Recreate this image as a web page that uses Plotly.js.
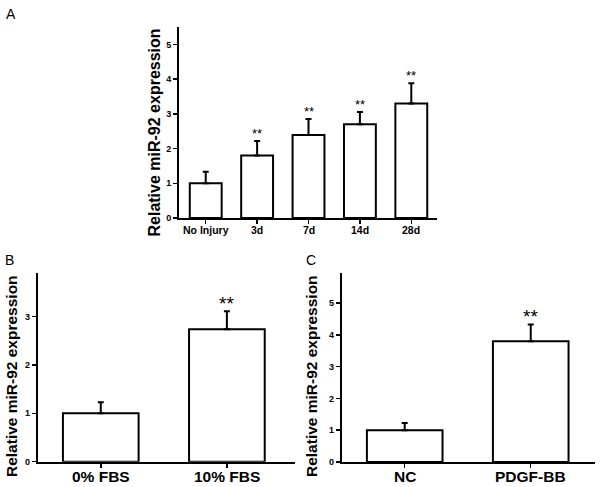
<!DOCTYPE html>
<html>
<head>
<meta charset="utf-8">
<script src="https://cdn.plot.ly/plotly-3.0.1.min.js"></script>
<style>html,body{margin:0;padding:0;background:#fff;}#chart{width:600px;height:487px;}</style>
</head>
<body>
<div id="chart"></div>
<script>
// Panel A
const catsA = ["No Injury", "3d", "7d", "14d", "28d"];
const valsA = [1.0, 1.80, 2.39, 2.70, 3.30];
const errA  = [0.33, 0.42, 0.46, 0.35, 0.58];
const sigA  = ["", "**", "**", "**", "**"];
// Panel B
const catsB = ["0% FBS", "10% FBS"];
const valsB = [1.0, 2.74];
const errB  = [0.23, 0.37];
const sigB  = ["", "**"];
// Panel C
const catsC = ["NC", "PDGF-BB"];
const valsC = [1.0, 3.80];
const errC  = [0.23, 0.53];
const sigC  = ["", "**"];

const yTitle = "Relative miR-92 expression";
const FONT = "Liberation Sans, Arial, sans-serif";
const W = 600, H = 487;
const px = v => v / W;
const py = v => 1 - v / H;

function barTrace(cats, vals, errs, xa, ya, width) {
  return {
    type: "bar", x: cats, y: vals, xaxis: xa, yaxis: ya, width: width,
    marker: {color: "#ffffff", line: {color: "#000", width: 2}},
    error_y: {type: "data", symmetric: false, array: errs, arrayminus: errs.map(() => 0),
              color: "#000", thickness: 2, width: 3},
    showlegend: false, hoverinfo: "skip"
  };
}

const data = [
  barTrace(catsA, valsA, errA, "x", "y", 0.62),
  barTrace(catsB, valsB, errB, "x2", "y2", 0.6),
  barTrace(catsC, valsC, errC, "x3", "y3", 0.6)
];

function xax(domain, range, anchor) {
  return {domain: domain, range: range, anchor: anchor, showline: true, linecolor: "#000", linewidth: 2,
    ticks: "outside", ticklen: 4, tickwidth: 1.5, tickcolor: "#000", showgrid: false,
    zeroline: false, fixedrange: true, showticklabels: false};
}
function yax(domain, range, anchor, size) {
  return {domain: domain, range: range, anchor: anchor, showline: true, linecolor: "#000", linewidth: 2,
    ticks: "outside", ticklen: 4, tickwidth: 1.5, tickcolor: "#000", showgrid: false,
    zeroline: false, dtick: 1, tick0: 0, fixedrange: true,
    tickfont: {family: FONT, size: size, color: "#000", weight: "bold"}};
}

const annotations = [];
function xlabels(cats, xa, yTopPx, size) {
  cats.forEach(c => {
    annotations.push({x: c, xref: xa, y: py(yTopPx), yref: "paper", text: c, showarrow: false,
      xanchor: "center", yanchor: "top",
      font: {family: FONT, size: size, color: "#000", weight: "bold"}});
  });
}
xlabels(catsA, "x", 222, 10.5);
xlabels(catsB, "x2", 466, 15.5);
xlabels(catsC, "x3", 466, 15.5);

function stars(cats, vals, errs, sig, xa, ya, size, shift) {
  cats.forEach((c, i) => {
    if (!sig[i]) return;
    annotations.push({x: c, y: vals[i] + errs[i], xref: xa, yref: ya, text: sig[i],
      showarrow: false, yanchor: "bottom", yshift: shift,
      font: {family: FONT, size: size, color: "#000"}});
  });
}
stars(catsA, valsA, errA, sigA, "x", "y", 13, -2);
stars(catsB, valsB, errB, sigB, "x2", "y2", 19, -5);
stars(catsC, valsC, errC, sigC, "x3", "y3", 19, -5);

function ytitle(x, y, size) {
  annotations.push({text: yTitle, xref: "paper", yref: "paper", x: x, y: y, textangle: -90,
    showarrow: false, xanchor: "center", yanchor: "middle",
    font: {family: FONT, size: size, color: "#000", weight: "bold"}});
}
ytitle(px(154), py(132.5), 16);
ytitle(px(11), py(376), 15.5);
ytitle(px(311), py(376), 15.5);

function panel(t, x, y) {
  annotations.push({text: t, xref: "paper", yref: "paper", x: x, y: y, xanchor: "left", yanchor: "top",
    showarrow: false, font: {family: FONT, size: 14, color: "#000"}});
}
panel("A", px(4), py(4));
panel("B", px(3), py(250));
panel("C", px(304), py(250));

const layout = {
  width: W, height: H, margin: {l: 0, r: 0, t: 0, b: 0},
  paper_bgcolor: "#fff", plot_bgcolor: "#fff",
  xaxis: xax([px(179), px(437)], [-0.52, 4.5], "y"),
  yaxis: yax([py(218), py(27)], [0, 5.5], "x", 9),
  xaxis2: xax([px(37.7), px(295)], [-0.5, 1.54], "y2"),
  yaxis2: yax([py(461.7), py(273)], [0, 3.9], "x2", 9),
  xaxis3: xax([px(341.7), px(595)], [-0.5, 1.51], "y3"),
  yaxis3: yax([py(462), py(273)], [0, 5.95], "x3", 9),
  annotations: annotations,
  font: {family: FONT}
};

Plotly.newPlot("chart", data, layout, {staticPlot: true, displayModeBar: false});
</script>
</body>
</html>
